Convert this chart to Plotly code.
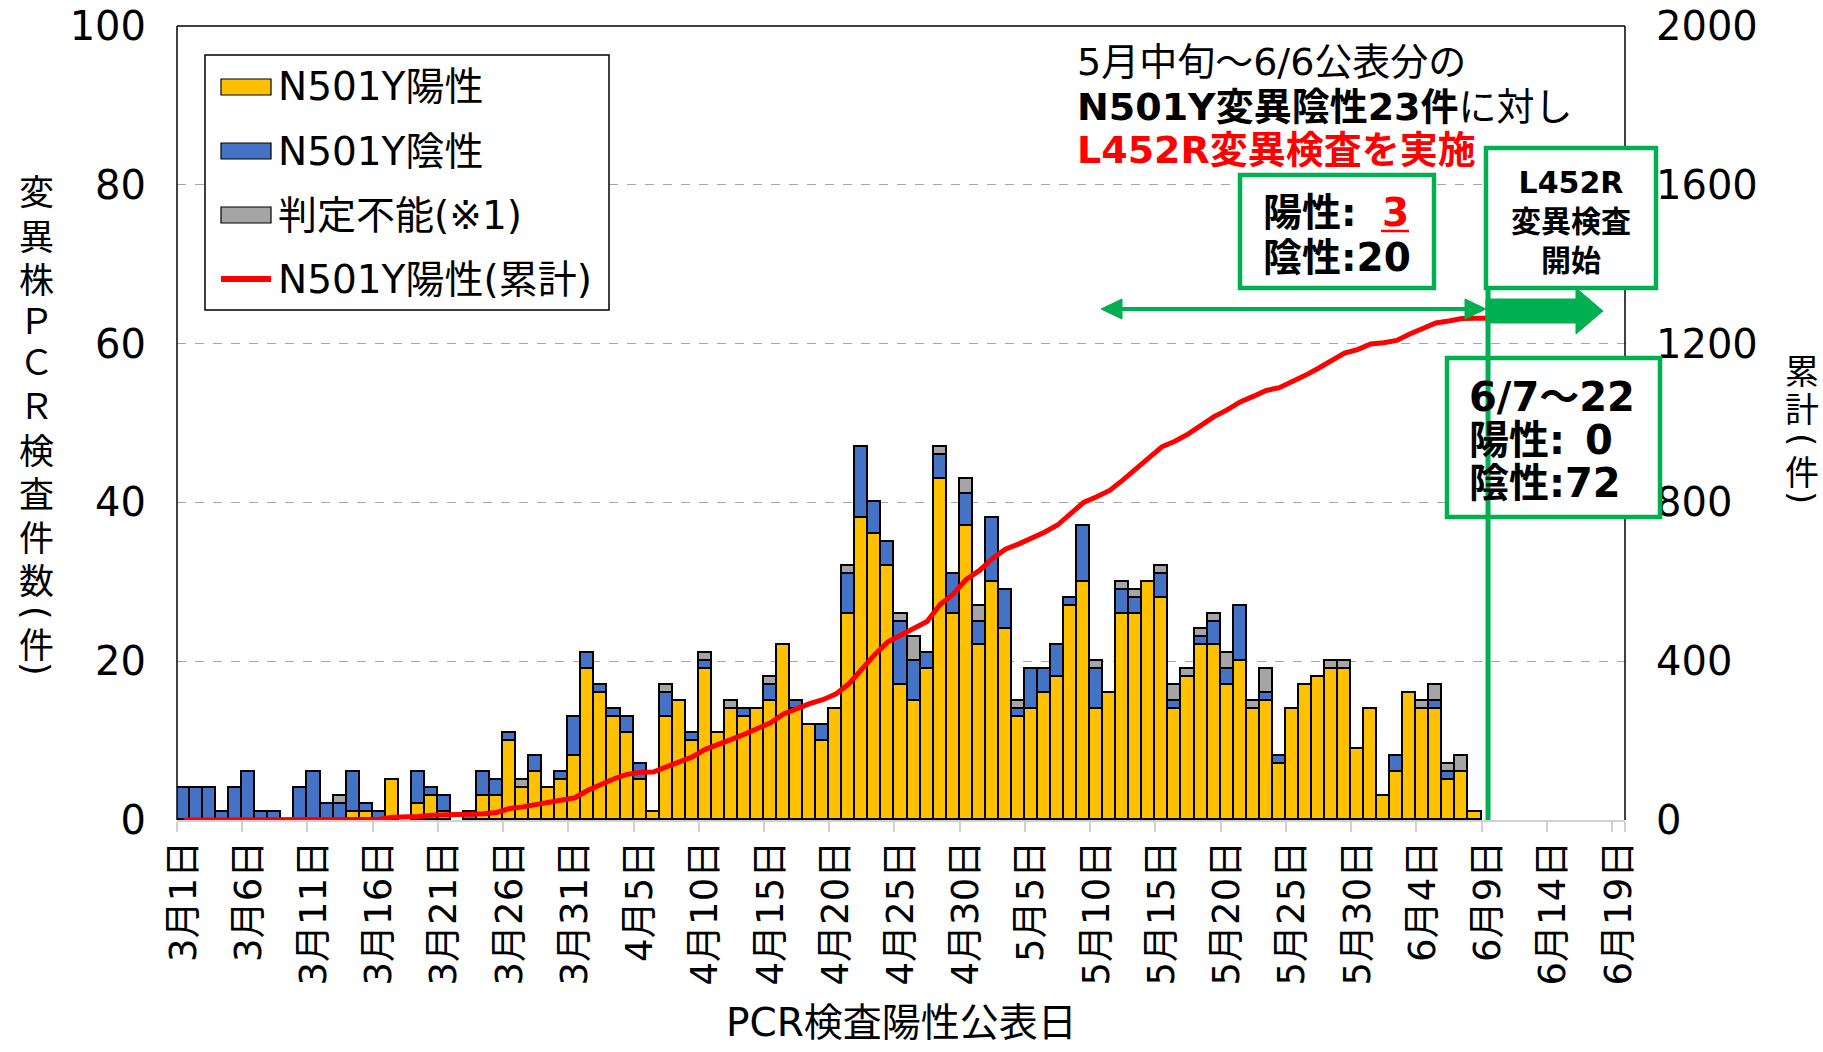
import pandas as pd
import plotly.graph_objects as go

# ---------------- data ----------------
days = pd.date_range("2021-03-01", "2021-06-09").strftime("%Y-%m-%d").tolist()

n501y_pos = [0, 0, 0, 0, 0, 0, 0, 0, 0, 0, 0, 0, 0, 1, 1, 0, 5, 0, 2, 3,
             1, 0, 0, 3, 3, 10, 4, 6, 4, 5, 8, 19, 16, 13, 11, 5, 1, 13, 15, 10,
             19, 11, 14, 13, 14, 15, 22, 14, 12, 10, 14, 26, 38, 36, 32, 17, 15, 19, 43, 26,
             37, 22, 30, 24, 13, 14, 16, 18, 27, 30, 14, 16, 26, 26, 30, 28, 14, 18, 22, 22,
             17, 20, 14, 15, 7, 14, 17, 18, 19, 19, 9, 14, 3, 6, 16, 14, 14, 5, 6, 1, 0]
n501y_neg = [4, 4, 4, 1, 4, 6, 1, 1, 0, 4, 6, 2, 2, 5, 1, 1, 0, 0, 4, 1,
             2, 0, 1, 3, 2, 1, 0, 2, 0, 1, 5, 2, 1, 1, 2, 2, 0, 3, 0, 1,
             1, 0, 0, 1, 0, 2, 0, 1, 0, 2, 0, 5, 9, 4, 3, 8, 5, 2, 3, 5,
             4, 3, 8, 5, 1, 5, 3, 4, 1, 7, 5, 0, 3, 2, 0, 3, 1, 0, 1, 3,
             2, 7, 0, 1, 1, 0, 0, 0, 0, 0, 0, 0, 0, 2, 0, 0, 1, 1, 0, 0, 0]
undetermined = [0, 0, 0, 0, 0, 0, 0, 0, 0, 0, 0, 0, 1, 0, 0, 0, 0, 0, 0, 0,
                0, 0, 0, 0, 0, 0, 1, 0, 0, 0, 0, 0, 0, 0, 0, 0, 0, 1, 0, 0,
                1, 0, 1, 0, 0, 1, 0, 0, 0, 0, 0, 1, 0, 0, 0, 1, 3, 0, 1, 0,
                2, 2, 0, 0, 1, 0, 0, 0, 0, 0, 1, 0, 1, 1, 0, 1, 2, 1, 1, 1,
                2, 0, 1, 3, 0, 0, 0, 0, 1, 1, 0, 0, 0, 0, 0, 1, 2, 1, 2, 0, 0]

# cumulative N501Y positives (derived from the daily values)
cumulative = pd.Series(n501y_pos).cumsum().tolist()

tick_dates = pd.date_range("2021-03-01", "2021-06-19", freq="5D").strftime("%Y-%m-%d").tolist()
tick_text = ["3月1日", "3月6日", "3月11日", "3月16日", "3月21日", "3月26日", "3月31日",
             "4月5日", "4月10日", "4月15日", "4月20日", "4月25日", "4月30日",
             "5月5日", "5月10日", "5月15日", "5月20日", "5月25日", "5月30日",
             "6月4日", "6月9日", "6月14日", "6月19日"]

series_names = ["N501Y陽性", "N501Y陰性", "判定不能(※1)", "N501Y陽性(累計)"]
colors = ["#FFC000", "#4472C4", "#A5A5A5", "#FF0000"]
GREEN = "#00B050"

FONT = "DejaVu Sans, Noto Sans CJK JP, sans-serif"
CJK = "Noto Sans CJK JP, DejaVu Sans, sans-serif"

# ---------------- geometry helpers (pixel -> paper) ----------------
W, H = 1823, 1052
PL, PR, PT, PB = 177, 1625, 26, 820


def fx(px):
    return (px - PL) / (PR - PL)


def fy(py):
    return (PB - py) / (PB - PT)


def nz(vals):
    return [v if v else None for v in vals]


fig = go.Figure()
for vals, name, col in zip([n501y_pos, n501y_neg, undetermined], series_names[:3], colors[:3]):
    fig.add_trace(go.Bar(x=days, y=nz(vals), name=name,
                         marker=dict(color=col, line=dict(color="black", width=1.6)),
                         showlegend=False))
fig.add_trace(go.Scatter(x=days, y=cumulative, yaxis="y2", mode="lines", name=series_names[3],
                         line=dict(color=colors[3], width=5), showlegend=False))

shapes = []
annotations = []

# plot frame (left, top, right)
for x0, y0, x1, y1 in [(0, 0, 0, 1), (0, 1, 1, 1), (1, 0, 1, 1)]:
    shapes.append(dict(type="line", xref="paper", yref="paper", x0=x0, y0=y0, x1=x1, y1=y1,
                       line=dict(color="black", width=1.5), layer="above"))

# ---- manual legend ----
shapes.append(dict(type="rect", xref="paper", yref="paper", x0=fx(205), x1=fx(609), y0=fy(55), y1=fy(310),
                   line=dict(color="black", width=1.5), fillcolor="white", layer="above"))
leg_y = [87, 151, 215, 279]
for i, (name, col) in enumerate(zip(series_names, colors)):
    yc = leg_y[i]
    if i < 3:
        shapes.append(dict(type="rect", xref="paper", yref="paper", x0=fx(221), x1=fx(271),
                           y0=fy(yc + 8), y1=fy(yc - 8), fillcolor=col,
                           line=dict(color="black", width=1.2), layer="above"))
    else:
        shapes.append(dict(type="line", xref="paper", yref="paper", x0=fx(221), x1=fx(271),
                           y0=fy(yc), y1=fy(yc), line=dict(color=col, width=6), layer="above"))
    annotations.append(dict(xref="paper", yref="paper", x=fx(276), y=fy(yc), text=name,
                            showarrow=False, xanchor="left", yanchor="middle",
                            font=dict(family=FONT, size=39, color="black")))

# ---- top-right explanatory text ----
annotations += [
    dict(xref="paper", yref="paper", x=fx(1075), y=fy(62), text="5月中旬～6/6公表分の",
         showarrow=False, xanchor="left", yanchor="middle", font=dict(family=FONT, size=38, color="black")),
    dict(xref="paper", yref="paper", x=fx(1075), y=fy(107), text="<b>N501Y変異陰性23件</b>に対し",
         showarrow=False, xanchor="left", yanchor="middle", font=dict(family=FONT, size=38, color="black")),
    dict(xref="paper", yref="paper", x=fx(1075), y=fy(150), text="<b>L452R変異検査を実施</b>",
         showarrow=False, xanchor="left", yanchor="middle", font=dict(family=FONT, size=38, color="#FF0000")),
]

# ---- green boxes ----
for (x0, y0, x1, y1) in [(1240, 175, 1434, 288), (1486, 148, 1656, 288), (1447, 358, 1660, 517)]:
    shapes.append(dict(type="rect", xref="paper", yref="paper", x0=fx(x0), x1=fx(x1), y0=fy(y1), y1=fy(y0),
                       line=dict(color=GREEN, width=4.5), fillcolor="white", layer="above"))

# vertical green line at 6/9
shapes.append(dict(type="line", xref="x", yref="paper", x0="2021-06-09", x1="2021-06-09",
                   y0=0, y1=fy(288), line=dict(color=GREEN, width=5), layer="above"))

# block arrow
bx = [1486, 1576, 1576, 1603, 1576, 1576, 1486]
by = [299, 299, 288, 311, 334, 323, 323]
path = "M " + " L ".join(f"{fx(a):.5f},{fy(b):.5f}" for a, b in zip(bx, by)) + " Z"
shapes.append(dict(type="path", xref="paper", yref="paper", path=path, fillcolor=GREEN,
                   line=dict(color=GREEN, width=1), layer="above"))

# double arrow
shapes.append(dict(type="line", xref="paper", yref="paper", x0=fx(1115), x1=fx(1472), y0=fy(309), y1=fy(309),
                   line=dict(color=GREEN, width=4), layer="above"))
for tip, base in [(1101, 1122), (1486, 1465)]:
    p = f"M {fx(tip):.5f},{fy(309):.5f} L {fx(base):.5f},{fy(299):.5f} L {fx(base):.5f},{fy(319):.5f} Z"
    shapes.append(dict(type="path", xref="paper", yref="paper", path=p, fillcolor=GREEN,
                       line=dict(color=GREEN, width=1), layer="above"))

# box texts
annotations += [
    dict(xref="paper", yref="paper", x=fx(1261), y=fy(212), text="<b>陽性:</b>",
         showarrow=False, xanchor="left", yanchor="middle", font=dict(family=FONT, size=39, color="black")),
    dict(xref="paper", yref="paper", x=fx(1395), y=fy(212), text="<b>3</b>",
         showarrow=False, xanchor="center", yanchor="middle", font=dict(family=FONT, size=39, color="#FF0000")),
    dict(xref="paper", yref="paper", x=fx(1261), y=fy(257), text="<b>陰性:20</b>",
         showarrow=False, xanchor="left", yanchor="middle", font=dict(family=FONT, size=39, color="black")),
    dict(xref="paper", yref="paper", x=fx(1571), y=fy(221), text="<b>L452R<br>変異検査<br>開始</b>",
         showarrow=False, xanchor="center", yanchor="middle", font=dict(family=FONT, size=30, color="black")),
    dict(xref="paper", yref="paper", x=fx(1467), y=fy(397), text="<b>6/7～22</b>",
         showarrow=False, xanchor="left", yanchor="middle", font=dict(family=FONT, size=40, color="black")),
    dict(xref="paper", yref="paper", x=fx(1467), y=fy(440), text="<b>陽性:</b>",
         showarrow=False, xanchor="left", yanchor="middle", font=dict(family=FONT, size=40, color="black")),
    dict(xref="paper", yref="paper", x=fx(1599), y=fy(440), text="<b>0</b>",
         showarrow=False, xanchor="center", yanchor="middle", font=dict(family=FONT, size=40, color="black")),
    dict(xref="paper", yref="paper", x=fx(1467), y=fy(483), text="<b>陰性:72</b>",
         showarrow=False, xanchor="left", yanchor="middle", font=dict(family=FONT, size=40, color="black")),
]
shapes.append(dict(type="line", xref="paper", yref="paper", x0=fx(1381), x1=fx(1409), y0=fy(231), y1=fy(231),
                   line=dict(color="#FF0000", width=2.5), layer="above"))

# ---- axis titles (vertical writing, one glyph per position; parentheses turned 90°) ----
left_title = ["変", "異", "株", "Ｐ", "Ｃ", "Ｒ", "検", "査", "件", "数", "(", "件", ")"]
left_y = [189, 234, 277, 318, 360, 403, 448, 491, 535, 578, 613, 642, 669]
for ch, yy in zip(left_title, left_y):
    is_paren = ch in "()"
    annotations.append(dict(xref="paper", yref="paper", x=fx(36), y=fy(yy), text=ch, showarrow=False,
                            xanchor="center", yanchor="middle", textangle=90 if is_paren else 0,
                            font=dict(family=FONT if is_paren else CJK, size=35, color="black")))
right_title = ["累", "計", "(", "件", ")"]
right_y = [369, 408, 439, 470, 497]
for ch, yy in zip(right_title, right_y):
    is_paren = ch in "()"
    annotations.append(dict(xref="paper", yref="paper", x=fx(1802), y=fy(yy), text=ch, showarrow=False,
                            xanchor="center", yanchor="middle", textangle=90 if is_paren else 0,
                            font=dict(family=FONT if is_paren else CJK, size=34, color="black")))
annotations.append(dict(xref="paper", yref="paper", x=0.5, y=fy(1022), text="PCR検査陽性公表日",
                        showarrow=False, xanchor="center", yanchor="middle",
                        font=dict(family=FONT, size=39, color="black")))

minor_vals = (pd.to_datetime(tick_dates) - pd.Timedelta(hours=12)).strftime("%Y-%m-%d %H:%M").tolist()
minor_vals.append("2021-06-19 12:00")

fig.update_layout(
    width=W, height=H,
    margin=dict(l=PL, r=W - PR, t=PT, b=H - PB),
    autosize=False,
    paper_bgcolor="white", plot_bgcolor="white",
    barmode="stack", bargap=0,
    font=dict(family=FONT, color="black"),
    shapes=shapes, annotations=annotations,
    showlegend=False,
    xaxis=dict(type="date", range=["2021-02-28 12:00", "2021-06-19 12:00"], automargin=False,
               tickmode="array", tickvals=tick_dates, ticktext=tick_text, tickangle=-90,
               tickfont=dict(family=FONT, size=37), ticks="", ticklabelstandoff=4,
               showgrid=False, showline=True, linecolor="#D0D0D0", linewidth=2,
               minor=dict(tickmode="array", tickvals=minor_vals, ticks="outside", ticklen=10,
                          tickcolor="#D0D0D0", tickwidth=2, showgrid=False)),
    yaxis=dict(range=[0, 100], tickvals=[0, 20, 40, 60, 80, 100], tickfont=dict(family=FONT, size=40),
               showgrid=True, gridcolor="#A6A6A6", griddash="dash", gridwidth=1.2, automargin=False,
               zeroline=False, showline=False, ticks="", ticklabelstandoff=30),
    yaxis2=dict(range=[0, 2000], tickvals=[0, 400, 800, 1200, 1600, 2000], overlaying="y", side="right",
                tickfont=dict(family=FONT, size=40), showgrid=False, zeroline=False, showline=False,
                automargin=False, ticks="", ticklabelstandoff=30),
)

fig.write_html("out.html", config={"displayModeBar": False},
               post_script="document.body.style.margin='0';document.body.style.overflow='hidden';")
